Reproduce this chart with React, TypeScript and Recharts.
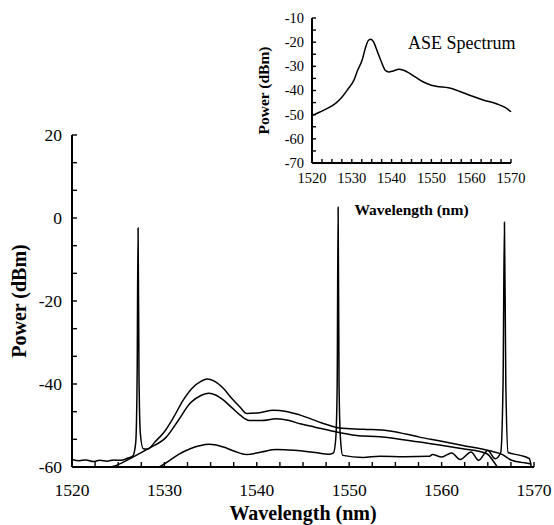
import { LineChart, Line, XAxis, YAxis, Label } from "recharts";

const serif = "'Liberation Serif', 'Times New Roman', Times, serif";

// main plot: three amplified ASE traces, each carrying one signal line
const upperWl = [
  1520, 1520.8, 1521.5, 1522.3, 1523, 1523.8, 1524.5, 1525.3, 1526, 1526.6, 1526.9, 1527.05, 1527.15,
  1527.25, 1527.4, 1527.7, 1528.2, 1529, 1530, 1531, 1532, 1533, 1534, 1534.6, 1535.4, 1536.4, 1537.3,
  1538.2, 1538.9, 1540.3, 1541.8, 1543.2, 1544.7, 1547.2, 1549, 1551.5, 1554.4, 1557.6, 1560, 1562.3,
  1565.2, 1566.6, 1567.5, 1569, 1569.7,
];
const upperDbm = [
  -58.2, -58.5, -58.3, -58.7, -58.4, -58.6, -58.3, -58.4, -57.9, -57.3, -54, -38, -2.4, -38, -52, -55.6,
  -55.7, -53.9, -51.5, -48, -44, -41, -39.3, -38.8, -39.3, -41.1, -43.5, -45.6, -47.1, -46.9, -46.3, -46.6,
  -47.5, -49.5, -50.6, -50.9, -51.3, -52.8, -53.8, -54.8, -56.1, -57, -58.3, -59, -59.3,
];

const middleWl = [
  1522.5, 1524.8, 1526.6, 1528.4, 1530.2, 1531.5, 1532.8, 1534, 1534.8, 1535.6, 1536.4, 1537.3, 1538.2,
  1539.2, 1540.5, 1542.1, 1543.5, 1544.7, 1546.3, 1547.9, 1550.8, 1553.3, 1557.6, 1562.3, 1564.9,
  1565.8, 1566.2, 1568, 1569.7,
];
const middleDbm = [
  -60.5, -59.6, -57.6, -55.4, -52.8, -48.8, -44.6, -42.7, -42.2, -42.7, -43.9, -45.7, -47.5, -48.8,
  -48.8, -48.4, -48.8, -49.6, -50.4, -51.2, -52.4, -52.7, -54, -55.6, -56.8, -59.2, -60.3, -60.3, -60.3,
];

const lowerWl = [
  1529.2, 1530.3, 1531.5, 1532.8, 1533.8, 1534.8, 1535.6, 1536.4, 1537.6, 1538.9, 1540.5, 1542.1,
  1543.4, 1544.7, 1546.3, 1547.9, 1548.3, 1548.55, 1548.7, 1548.8, 1548.9, 1549.05, 1549.3, 1551.5,
  1553.3, 1556, 1558.7, 1559, 1560, 1561.1, 1562, 1563.2, 1564, 1565, 1565.8, 1566.4, 1566.65, 1566.8,
  1566.95, 1567.2, 1568.5, 1569.5, 1569.7,
];
const lowerDbm = [
  -60.3, -58.8, -57, -55.6, -54.9, -54.5, -54.7, -55.2, -56.2, -57, -56.4, -55.8, -55.9, -56.1, -56.5,
  -56.9, -56.6, -53, -40, 2.6, -40, -53, -57.2, -57.7, -57.4, -57.5, -57.4, -57, -57.6, -56.6, -58.2,
  -56.4, -58.4, -56, -58, -56.5, -40, -1, -40, -56.5, -57.2, -58, -60,
];

// inset: ASE spectrum of the source
const aseWl = [
  1520, 1522, 1524, 1526, 1527.5, 1529, 1530.5, 1531.5, 1532.6, 1533.4, 1534.2, 1534.8, 1535.5, 1536.3,
  1537.4, 1538.4, 1539.3, 1540.3, 1541.8, 1543, 1543.9, 1546, 1548, 1550, 1551.4, 1554.3, 1557, 1559.8,
  1563, 1566.5, 1568.5, 1570,
];
const aseDbm = [
  -50.4, -48.9, -47.3, -45.2, -42.8, -39.5, -35.8, -31.5, -27.4, -22.5, -19.2, -18.8, -20, -23.3, -28,
  -31.6, -32.3, -32, -31.2, -31.6, -32.3, -34.5, -36.5, -37.8, -38.3, -38.9, -40.3, -42.1, -43.9, -45.6,
  -47, -48.8,
];

const mainXTicks = [
  1520, 1522.5, 1525, 1527.5, 1530, 1532.5, 1535, 1537.5, 1540, 1542.5, 1545, 1547.5, 1550, 1552.5, 1555,
  1557.5, 1560, 1562.5, 1565, 1567.5, 1570,
];
const mainYTicks = [
  -60, -53.333, -46.667, -40, -33.333, -26.667, -20, -13.333, -6.667, 0, 6.667, 13.333, 20,
];
const insetXTicks = mainXTicks;
const insetYTicks = [-70, -65, -60, -55, -50, -45, -40, -35, -30, -25, -20, -15, -10];

const toPoints = (wl: number[], dbm: number[]) => wl.map((w, i) => ({ w, p: dbm[i] }));

const axisLine = { stroke: "#000", strokeWidth: 2 };
const tickLine = { stroke: "#000", strokeWidth: 1.4 };

// tick text drawn by hand so the serif face and size stick
const makeTick = (step: number, size: number, dy: string) => (props: any) => {
  const { x, y, payload, textAnchor } = props;
  const v = payload.value;
  if (Math.abs(v % step) > 0.01) return <g />;
  return (
    <text x={x} y={y} dy={dy} textAnchor={textAnchor} fill="#000" fontSize={size} fontFamily={serif}>
      {String(Math.round(v))}
    </text>
  );
};

const trace = (key: string, wl: number[], dbm: number[]) => (
  <Line
    key={key}
    data={toPoints(wl, dbm)}
    dataKey="p"
    type="monotone"
    stroke="#000"
    strokeWidth={1.5}
    dot={false}
    activeDot={false}
    isAnimationActive={false}
  />
);

export default function App() {
  return (
    <div
      style={{
        position: "absolute",
        left: 0,
        top: 0,
        width: 554,
        height: 525,
        background: "#fff",
        fontFamily: serif,
      }}
    >
      <div style={{ position: "absolute", left: 0, top: 0 }}>
        <LineChart width={554} height={525} margin={{ top: 135, right: 20, bottom: 0, left: 0 }}>
          <XAxis
            dataKey="w"
            type="number"
            domain={[1520, 1570]}
            ticks={mainXTicks}
            interval={0}
            tickSize={-5}
            tickMargin={22}
            height={58}
            axisLine={axisLine}
            tickLine={tickLine}
            tick={makeTick(10, 17.5, "0.71em")}
            allowDataOverflow
          >
            <Label
              value="Wavelength (nm)"
              position="insideBottom"
              offset={5}
              style={{ fill: "#000", fontSize: 20, fontWeight: "bold", fontFamily: serif }}
            />
          </XAxis>
          <YAxis
            type="number"
            domain={[-60, 20]}
            ticks={mainYTicks}
            interval={0}
            tickSize={-5}
            tickMargin={15}
            width={72}
            axisLine={axisLine}
            tickLine={tickLine}
            tick={makeTick(20, 17.5, "0.34em")}
            allowDataOverflow
          >
            <Label
              value="Power (dBm)"
              angle={-90}
              position="insideLeft"
              offset={19}
              style={{ fill: "#000", fontSize: 20, fontWeight: "bold", fontFamily: serif, textAnchor: "middle" }}
            />
          </YAxis>
          {trace("upper", upperWl, upperDbm)}
          {trace("middle", middleWl, middleDbm)}
          {trace("lower", lowerWl, lowerDbm)}
        </LineChart>
      </div>
      <div style={{ position: "absolute", left: 0, top: 0 }}>
        <LineChart width={554} height={525} margin={{ top: 18, right: 43, bottom: 302, left: 252 }}>
          <XAxis
            dataKey="w"
            type="number"
            domain={[1520, 1570]}
            ticks={insetXTicks}
            interval={0}
            tickSize={-4}
            tickMargin={14}
            height={60}
            axisLine={axisLine}
            tickLine={tickLine}
            tick={makeTick(10, 14.5, "0.71em")}
          >
            <Label
              value="Wavelength (nm)"
              position="insideBottom"
              offset={8}
              style={{ fill: "#000", fontSize: 15.5, fontWeight: "bold", fontFamily: serif }}
            />
          </XAxis>
          <YAxis
            type="number"
            domain={[-70, -10]}
            ticks={insetYTicks}
            interval={0}
            tickSize={-4}
            tickMargin={12}
            width={60}
            axisLine={axisLine}
            tickLine={tickLine}
            tick={makeTick(10, 14.5, "0.34em")}
          >
            <Label
              value="Power (dBm)"
              angle={-90}
              position="insideLeft"
              offset={11}
              style={{ fill: "#000", fontSize: 15.5, fontWeight: "bold", fontFamily: serif, textAnchor: "middle" }}
            />
          </YAxis>
          {trace("ase", aseWl, aseDbm)}
        </LineChart>
      </div>
      <div
        style={{
          position: "absolute",
          left: 408,
          top: 33,
          fontFamily: serif,
          fontSize: 18,
          lineHeight: "20px",
          color: "#000",
          whiteSpace: "nowrap",
        }}
      >
        ASE Spectrum
      </div>
    </div>
  );
}
